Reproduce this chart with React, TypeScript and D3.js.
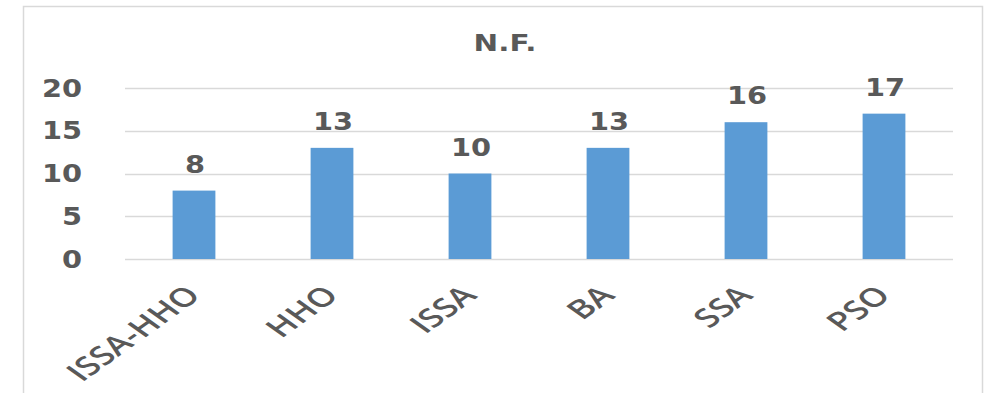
import React from "react";
import * as d3 from "d3";

// Chart data
const categories: string[] = ["ISSA-HHO", "HHO", "ISSA", "BA", "SSA", "PSO"];
const values: number[] = [8, 13, 10, 13, 16, 17];
const yTicks: number[] = [0, 5, 10, 15, 20];
const title = "N.F.";

const W = 987;
const H = 393;
const plot = { left: 125, right: 953, top: 88, bottom: 259 };

const TEXT = "#595959";
const GRID = "#D9D9D9";
const BAR = "#5B9BD5";
const BOLD_FONT = "'DejaVu Sans', sans-serif";
const LABEL_FONT = "'Open Sans', sans-serif";

export default function App() {
  const x = d3
    .scaleBand<string>()
    .domain(categories)
    .range([plot.left, plot.right])
    .padding(0);
  const y = d3.scaleLinear().domain([0, 20]).range([plot.bottom, plot.top]);
  const barW = x.bandwidth() * 0.31;

  return (
    <svg
      width={W}
      height={H}
      style={{ position: "absolute", left: 0, top: 0, background: "#fff" }}
    >
      {/* chart frame */}
      <rect x={23.5} y={6.5} width={959} height={400} fill="#fff" stroke={GRID} strokeWidth={1.5} />

      {/* title */}
      <text
        transform={`translate(505,51) scale(1.28,1)`}
        textAnchor="middle"
        fontFamily={BOLD_FONT}
        fontWeight="bold"
        fontSize={23}
        fill={TEXT}
      >
        {title}
      </text>

      {/* gridlines and y tick labels */}
      {yTicks.map((t) => (
        <g key={t}>
          <line
            x1={plot.left}
            x2={plot.right}
            y1={Math.round(y(t)) + 0.5}
            y2={Math.round(y(t)) + 0.5}
            stroke={GRID}
            strokeWidth={1.3}
          />
          <text
            transform={`translate(82,${y(t) + 8.5}) scale(1.2,1)`}
            textAnchor="end"
            fontFamily={BOLD_FONT}
            fontWeight="bold"
            fontSize={24}
            fill={TEXT}
          >
            {t}
          </text>
        </g>
      ))}

      {/* bars and value labels */}
      {categories.map((c, i) => {
        const cx = (x(c) as number) + x.bandwidth() / 2;
        const v = values[i];
        return (
          <g key={c}>
            <rect x={cx - barW / 2} y={y(v)} width={barW} height={y(0) - y(v)} fill={BAR} />
            <text
              transform={`translate(${cx + 1},${y(v) - 18}) scale(1.2,1)`}
              textAnchor="middle"
              fontFamily={BOLD_FONT}
              fontWeight="bold"
              fontSize={24}
              fill={TEXT}
            >
              {v}
            </text>
          </g>
        );
      })}

      {/* rotated category labels */}
      {categories.map((c) => {
        const cx = (x(c) as number) + x.bandwidth() / 2;
        return (
          <text
            key={c}
            transform={`translate(${cx - 11},283) scale(1.4,1) rotate(-45)`}
            textAnchor="end"
            dy="0.75em"
            fontFamily={LABEL_FONT}
            fontWeight={600}
            fontSize={26}
            fill={TEXT}
          >
            {c}
          </text>
        );
      })}
    </svg>
  );
}
